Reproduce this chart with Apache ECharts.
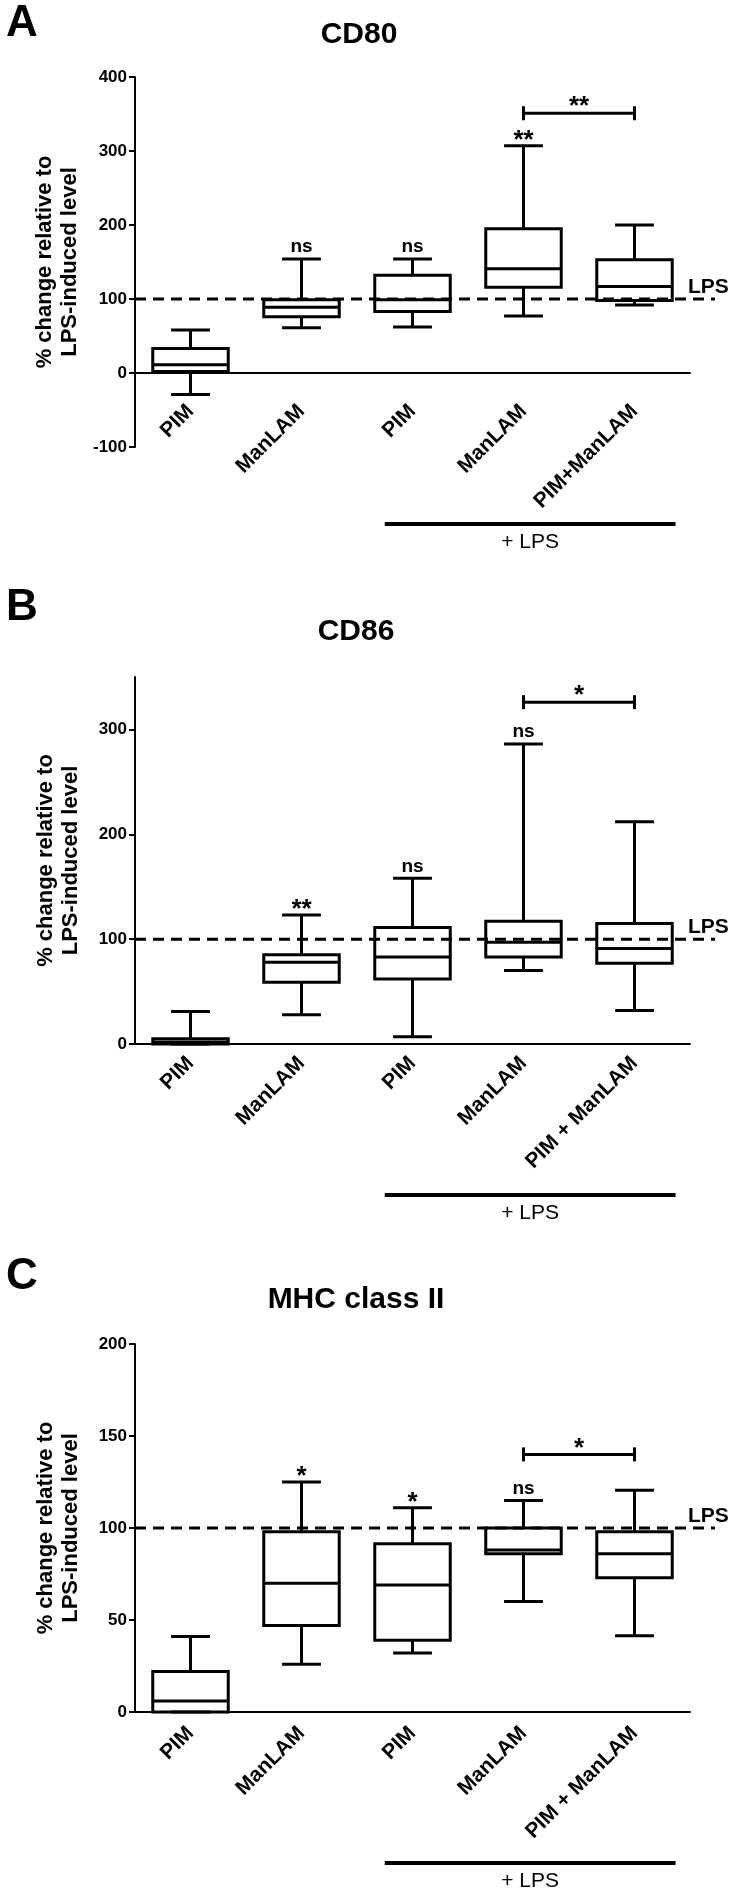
<!DOCTYPE html>
<html><head><meta charset="utf-8">
<script src="https://cdn.jsdelivr.net/npm/echarts@6/dist/echarts.min.js"></script>
<style>html,body{margin:0;padding:0;background:#fff}#c{width:736px;height:1892px}</style>
</head><body><div id="c"></div>
<script>
// ---------- data ----------
const catsA = ['PIM', 'ManLAM', 'PIM', 'ManLAM', 'PIM+ManLAM'];
const catsBC = ['PIM', 'ManLAM', 'PIM', 'ManLAM', 'PIM + ManLAM'];
const LPS_LEVEL = 100;

// [min, Q1, median, Q3, max]
const cd80Boxes = [[-29, 2, 11, 33, 58], [61, 76, 89, 99, 154], [62, 83, 99, 132, 154], [77, 116, 141, 195, 307], [92, 98, 117, 153, 200]];
const cd80Sig = ['', 'ns', 'ns', '**', ''];
const cd80Bracket = { from: 3, to: 4, level: 351, text: '**' };
const cd80Ticks = [-100, 0, 100, 200, 300, 400];

const cd86Boxes = [[0, 0, 2, 5, 31], [28, 59, 78, 85, 123], [7, 62, 83, 111, 158], [70, 83, 97, 117, 286], [32, 77, 91, 115, 212]];
const cd86Sig = ['', '**', 'ns', 'ns', ''];
const cd86Bracket = { from: 3, to: 4, level: 326, text: '*' };
const cd86Ticks = [0, 100, 200, 300];

const mhcBoxes = [[0, 0, 6, 22, 41], [26, 47, 70, 98, 125], [32, 39, 69, 91.5, 111], [60, 86, 88, 100, 115], [41.5, 73, 86, 98, 120.5]];
const mhcSig = ['', '*', '*', 'ns', ''];
const mhcBracket = { from: 3, to: 4, level: 140, text: '*' };
const mhcTicks = [0, 50, 100, 150, 200];

const titles = ['CD80', 'CD86', 'MHC class II'];
const letters = ['A', 'B', 'C'];
const yName = '% change relative to\nLPS-induced level';
const groupLabel = '+ LPS';

// ---------- layout / style ----------
const FONT = "'Liberation Sans', Arial, Helvetica, sans-serif";
const panels = [
  { cats: catsA, boxes: cd80Boxes, sigs: cd80Sig, bracket: cd80Bracket, ticks: cd80Ticks, min: -100, max: 400, step: 100, top: 77, height: 370, margin: 35, letterY: 24, titleY: 35, titleX: 359 },
  { cats: catsBC, boxes: cd86Boxes, sigs: cd86Sig, bracket: cd86Bracket, ticks: cd86Ticks, min: 0, max: 350, step: 100, top: 677, height: 367, margin: 16, letterY: 608, titleY: 632, titleX: 356 },
  { cats: catsBC, boxes: mhcBoxes, sigs: mhcSig, bracket: mhcBracket, ticks: mhcTicks, min: 0, max: 200, step: 50, top: 1344, height: 368, margin: 18, letterY: 1277, titleY: 1300, titleX: 356 }
];

function renderBox(params, api) {
  const i = api.value(0);
  const x = api.coord([i, 0])[0];
  const y = k => api.coord([i, api.value(k)])[1];
  const yMin = y(1), yQ1 = y(2), yMed = y(3), yQ3 = y(4), yMax = y(5);
  const band = api.size([1, 0])[0];
  const bw = band * 0.68, cw = band * 0.35;
  const ls = { stroke: '#000', lineWidth: 3, fill: null };
  return {
    type: 'group', children: [
      { type: 'line', shape: { x1: x, y1: yMax, x2: x, y2: yQ3 }, style: ls },
      { type: 'line', shape: { x1: x, y1: yQ1, x2: x, y2: yMin }, style: ls },
      { type: 'line', shape: { x1: x - cw / 2, y1: yMax, x2: x + cw / 2, y2: yMax }, style: ls },
      { type: 'line', shape: { x1: x - cw / 2, y1: yMin, x2: x + cw / 2, y2: yMin }, style: ls },
      { type: 'rect', shape: { x: x - bw / 2, y: yQ3, width: bw, height: yQ1 - yQ3 }, style: { stroke: '#000', lineWidth: 3, fill: null } },
      { type: 'line', shape: { x1: x - bw / 2, y1: yMed, x2: x + bw / 2, y2: yMed }, style: ls }
    ]
  };
}

function makeAnnot(p) {
  return function (params, api) {
    const band = api.size([1, 0])[0];
    const c = i => api.coord([i, 0])[0];
    const yv = v => api.coord([0, v])[1];
    const ch = [];
    const n = p.cats.length;
    const ly = yv(LPS_LEVEL);
    const x0 = c(0) - band / 2, xEnd = c(n - 1) + band / 2;
    ch.push({ type: 'line', shape: { x1: x0, y1: ly, x2: xEnd + 25, y2: ly }, style: { stroke: '#000', lineWidth: 3, lineDash: [11, 7] } });
    ch.push({ type: 'text', style: { text: 'LPS', x: xEnd - 2, y: ly - 12, fill: '#000', fontSize: 21, fontWeight: 'bold', fontFamily: FONT, align: 'left', verticalAlign: 'middle' } });
    p.sigs.forEach((s, i) => {
      if (!s) return;
      const top = yv(p.boxes[i][4]);
      const star = s.indexOf('*') >= 0;
      ch.push({ type: 'text', style: { text: s, x: c(i), y: top - (star ? 5 : 12), fill: '#000', fontSize: star ? 26 : 19, fontWeight: 'bold', fontFamily: FONT, align: 'center', verticalAlign: 'middle' } });
    });
    const b = p.bracket;
    const by = yv(b.level), bx1 = c(b.from), bx2 = c(b.to);
    const bs = { stroke: '#000', lineWidth: 3 };
    ch.push({ type: 'line', shape: { x1: bx1, y1: by, x2: bx2, y2: by }, style: bs });
    ch.push({ type: 'line', shape: { x1: bx1, y1: by - 7, x2: bx1, y2: by + 7 }, style: bs });
    ch.push({ type: 'line', shape: { x1: bx2, y1: by - 7, x2: bx2, y2: by + 7 }, style: bs });
    ch.push({ type: 'text', style: { text: b.text, x: (bx1 + bx2) / 2, y: by - 6, fill: '#000', fontSize: 26, fontWeight: 'bold', fontFamily: FONT, align: 'center', verticalAlign: 'middle' } });
    const ay = yv(0) + 151;
    const gx1 = c(2) - band * 0.25, gx2 = c(n - 1) + band * 0.37;
    ch.push({ type: 'line', shape: { x1: gx1, y1: ay, x2: gx2, y2: ay }, style: { stroke: '#000', lineWidth: 4 } });
    ch.push({ type: 'text', style: { text: groupLabel, x: (gx1 + gx2) / 2, y: ay + 18, fill: '#000', fontSize: 21, fontWeight: 'normal', fontFamily: FONT, align: 'center', verticalAlign: 'middle' } });
    return { type: 'group', children: ch };
  };
}

const grid = [], xAxis = [], yAxis = [], series = [], graphic = [];
panels.forEach((p, k) => {
  grid.push({ left: 135, top: p.top, width: 555, height: p.height, containLabel: false });
  // place the category axis on the zero line (offset from the grid bottom)
  const zeroOffset = -p.height * (0 - p.min) / (p.max - p.min);
  xAxis.push({
    type: 'category', gridIndex: k, data: p.cats, boundaryGap: true, position: 'bottom', offset: zeroOffset,
    axisLine: { onZero: false, lineStyle: { color: '#000', width: 2 } },
    axisTick: { alignWithLabel: true, length: 7, lineStyle: { color: '#000', width: 2 } },
    axisLabel: { interval: 0, rotate: 45, margin: p.margin, color: '#000', fontSize: 21, fontWeight: 'bold', fontFamily: FONT },
    splitLine: { show: false }
  });
  yAxis.push({
    type: 'value', gridIndex: k, min: p.min, max: p.max, interval: p.step,
    name: yName, nameLocation: 'middle', nameRotate: 90, nameGap: 52,
    nameTextStyle: { color: '#000', fontSize: 22, fontWeight: 'bold', fontFamily: FONT, lineHeight: 25 },
    axisLine: { show: true, lineStyle: { color: '#000', width: 2 } },
    axisTick: { show: true, length: 6, customValues: p.ticks, lineStyle: { color: '#000', width: 2 } },
    axisLabel: { margin: 8, customValues: p.ticks, color: '#000', fontSize: 17, fontWeight: 'bold', fontFamily: FONT },
    splitLine: { show: false }
  });
  series.push({
    type: 'custom', xAxisIndex: k, yAxisIndex: k, clip: false, z: 2,
    data: p.boxes.map((b, i) => [i].concat(b)),
    encode: { x: 0, y: [1, 2, 3, 4, 5] },
    renderItem: renderBox
  });
  series.push({
    type: 'custom', xAxisIndex: k, yAxisIndex: k, clip: false, z: 3,
    data: [[0, LPS_LEVEL]],
    encode: { x: 0, y: 1 },
    renderItem: makeAnnot(p)
  });
  graphic.push({ type: 'text', left: 6, top: p.letterY - 22, style: { text: letters[k], fill: '#000', fontSize: 44, fontWeight: 'bold', fontFamily: FONT } });
  graphic.push({ type: 'text', x: p.titleX, y: p.titleY, style: { text: titles[k], fill: '#000', fontSize: 30, fontWeight: 'bold', fontFamily: FONT, align: 'center', verticalAlign: 'middle' } });
});

const chart = echarts.init(document.getElementById('c'), null, { renderer: 'canvas' });
chart.setOption({
  backgroundColor: '#fff',
  animation: false,
  grid, xAxis, yAxis, series, graphic,
  tooltip: { show: false }
});
</script>
</body></html>
